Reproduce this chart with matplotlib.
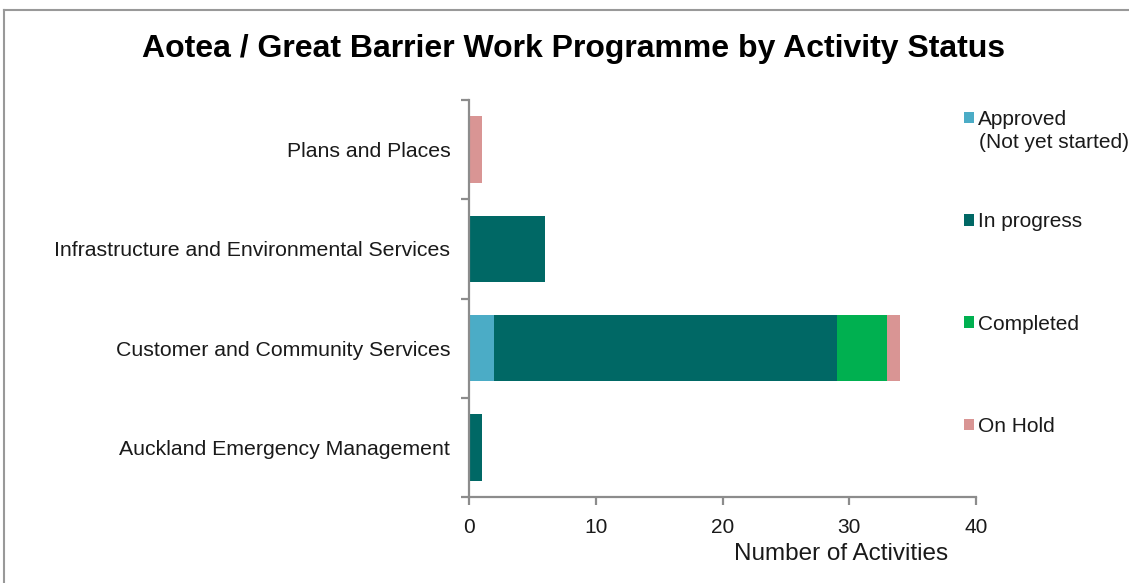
import matplotlib
matplotlib.use("Agg")
import matplotlib.pyplot as plt
import numpy as np
from matplotlib.patches import Patch
from matplotlib.lines import Line2D

plt.rcParams['font.family'] = ['Liberation Sans', 'DejaVu Sans']

# -------------------- Data --------------------
categories = ['Auckland Emergency Management',
              'Customer and Community Services',
              'Infrastructure and Environmental Services',
              'Plans and Places']
statuses = ['Approved', 'In progress', 'Completed', 'On Hold']
approved = [0, 2, 0, 0]
in_progress = [1, 27, 6, 0]
completed = [0, 4, 0, 0]
on_hold = [0, 1, 0, 1]
colors = ['#4BACC6', '#006865', '#00B050', '#D99594']
x_ticks = [0, 10, 20, 30, 40]

# -------------------- Figure --------------------
fig = plt.figure(figsize=(11.29, 5.83), dpi=100)
ax = fig.add_axes([469 / 1129, 1 - 497 / 583, 507 / 1129, 397 / 583])

y = np.arange(len(categories))
left = np.zeros(len(categories))
for vals, col, lab in zip([approved, in_progress, completed, on_hold], colors, statuses):
    ax.barh(y, vals, left=left, height=0.67, color=col, label=lab)
    left += np.array(vals)

ax.set_xlim(0, 40)
ax.set_ylim(-0.5, len(categories) - 0.5)
ax.set_xticks(x_ticks)
ax.set_yticks(y)
ax.set_yticklabels(categories)
ax.set_yticks(np.arange(-0.5, len(categories)), minor=True)

grey = '#8C8C8C'
txt = '#1a1a1a'
for s in ['top', 'right']:
    ax.spines[s].set_visible(False)
for s in ['left', 'bottom']:
    ax.spines[s].set_color(grey)
    ax.spines[s].set_linewidth(1.6)

ax.tick_params(axis='y', which='major', length=0, pad=13.5, labelsize=15.3, labelcolor=txt)
ax.tick_params(axis='y', which='minor', length=6, width=1.6, color=grey)
ax.tick_params(axis='x', which='major', length=6, width=1.6, color=grey, pad=9,
               labelsize=15, labelcolor=txt)

ax.set_xlabel('Number of Activities', fontsize=17.5, color=txt)
ax.xaxis.set_label_coords(0.734, -0.115)

fig.text(574 / 1129, 1 - 49 / 583, 'Aotea / Great Barrier Work Programme by Activity Status',
         ha='center', va='center', fontsize=23, fontweight='bold', color='#000000')

# -------------------- Legend --------------------
handles = [Patch(facecolor=c, edgecolor='none') for c in colors]
leg = fig.legend(handles, statuses, loc='upper left', bbox_to_anchor=(964 / 1129, 1 - 110 / 583),
                 frameon=False, fontsize=15, handlelength=0.48, handleheight=0.48,
                 handletextpad=0.2, labelspacing=4.0, borderaxespad=0, borderpad=0)
for t in leg.get_texts():
    t.set_color(txt)
fig.text(979 / 1129, 1 - 143 / 583, '(Not yet started)', ha='left', va='center',
         fontsize=15, color=txt)

# outer chart frame
fig.add_artist(Line2D([4 / 1129, 4 / 1129], [0, 1 - 10 / 583], transform=fig.transFigure,
                      color='#999999', linewidth=1.5))
fig.add_artist(Line2D([4 / 1129, 1], [1 - 10 / 583, 1 - 10 / 583], transform=fig.transFigure,
                      color='#999999', linewidth=1.5))

fig.savefig('out.png', dpi=100)
